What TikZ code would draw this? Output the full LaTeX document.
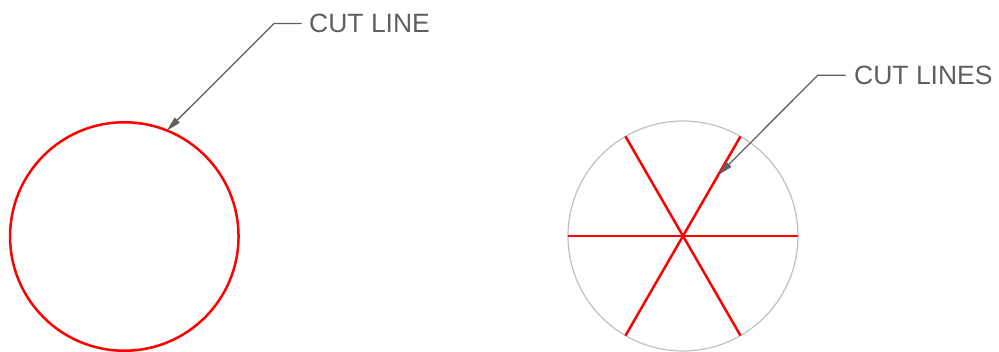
\documentclass[tikz,border=0pt]{standalone}
\usepackage{fontspec}
\setmainfont{Liberation Sans}
\usetikzlibrary{arrows.meta, positioning}
\definecolor{cutred}{RGB}{255,0,0}
\definecolor{leadgray}{RGB}{95,95,95}
\definecolor{rimgray}{RGB}{192,192,192}

\begin{document}
\begin{tikzpicture}[
                x=1pt, y=-1pt,
                >={Triangle[length=15pt, width=7pt]},
                leader/.style={draw=leadgray, line width=1.3pt},
                callout/.style={text=leadgray, inner sep=0pt, font=\fontsize{26.5}{30}\selectfont},
                cutline/.style={draw=cutred, line width=2.5pt},
                disc/.style={circle, inner sep=0pt, outer sep=0pt}
            ]
            \useasboundingbox (0,0) rectangle (999,352);

            % single cut round the rim
            \node[disc, cutline, minimum size=228.5pt] (whole) at (124.3,236.5) {};
            \coordinate (tipA) at (166.7,130.7);
            \coordinate (kneeA) at (274,23.5);
            \coordinate (endA) at (301.7,23.5);
            \node[callout, right=7.3pt of endA] (lblA) {CUT LINE};
            \draw[leader, <-] (tipA) -- (kneeA) -- (endA);

            % three cuts through the centre
            \node[disc, draw=rimgray, line width=1.2pt, minimum size=230pt] (wheel) at (683,236) {};
            \foreach \a in {0,60,120} {
                \pgfmathtruncatemacro\b{\a+180}
                \draw[cutline] (wheel.\a) -- (wheel.\b);
            }
            \coordinate (tipB) at (718.3,175);
            \coordinate (kneeB) at (817.7,75.3);
            \coordinate (endB) at (845.7,75.3);
            \node[callout, right=8.3pt of endB] (lblB) {CUT LINES};
            \draw[leader, <-] (tipB) -- (kneeB) -- (endB);
        \end{tikzpicture}
\end{document}
